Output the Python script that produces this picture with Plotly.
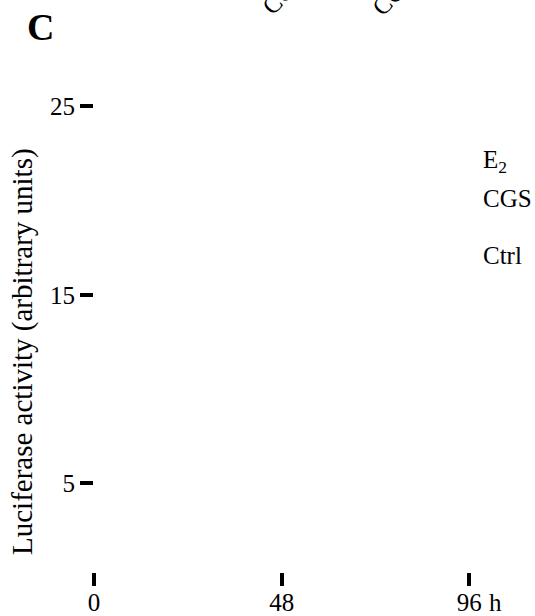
import plotly.graph_objects as go

# ---- data ----
x_ticks = [0, 48, 96]
x_tick_labels = ["0", "48", "96"]
y_ticks = [5, 15, 25]
y_tick_labels = ["5", "15", "25"]
series_names = ["E<sub>2</sub>", "CGS", "Ctrl"]
series_label_y = [22.1, 20.1, 17.1]
top_labels = ["CGS", "CGS"]
x_unit = "h"
y_title = "Luciferase activity (arbitrary units)"
panel = "C"

W, H = 535, 616
L, R, T, B = 94, 485, 80, 572  # plot area in pixels
FONT = "Liberation Serif, Times New Roman, serif"


def px(xp):
    return (xp - L) / (R - L)


def py(yp):
    return (B - yp) / (B - T)


fig = go.Figure()
fig.add_trace(go.Scatter(x=[], y=[], mode="lines", showlegend=False))

fig.update_layout(
    width=W, height=H,
    margin=dict(l=L, r=W - R, t=T, b=H - B, autoexpand=False),
    paper_bgcolor="white", plot_bgcolor="white",
    showlegend=False,
    font=dict(family=FONT, size=25, color="black"),
    xaxis=dict(range=[0, 100], showline=False, showgrid=False, zeroline=False,
               automargin=False,
               tickmode="array", tickvals=x_ticks, ticktext=x_tick_labels,
               ticks="outside", ticklen=13, tickwidth=4, tickcolor="black",
               ticklabelstandoff=-5,
               tickfont=dict(family=FONT, size=25, color="black")),
    yaxis=dict(range=[0.3, 26.4], showline=False, showgrid=False, zeroline=False,
               automargin=False,
               tickmode="array", tickvals=y_ticks, ticktext=y_tick_labels,
               ticks="outside", ticklen=13, tickwidth=4, tickcolor="black",
               tickfont=dict(family=FONT, size=25, color="black")),
)

ann = []
for name, yv in zip(series_names, series_label_y):
    ann.append(dict(x=px(481), xref="paper", y=yv, yref="y", text=name,
                    showarrow=False, xanchor="left", yanchor="middle",
                    font=dict(family=FONT, size=25, color="black")))
ann.append(dict(x=px(487), xref="paper", y=py(602), yref="paper", text=x_unit,
                showarrow=False, xanchor="left", yanchor="middle",
                font=dict(family=FONT, size=25, color="black")))
ann.append(dict(x=px(22), xref="paper", y=py(352), yref="paper", text=y_title,
                textangle=-90, showarrow=False, xanchor="center", yanchor="middle",
                font=dict(family=FONT, size=29, color="black")))
ann.append(dict(x=px(40), xref="paper", y=py(27), yref="paper", text="<b>" + panel + "</b>",
                showarrow=False, xanchor="center", yanchor="middle",
                font=dict(family=FONT, size=38, color="black")))
for txt, (cx, cy) in zip(top_labels, [(283, -7), (393, -6)]):
    ann.append(dict(x=px(cx), xref="paper", y=py(cy), yref="paper", text=txt,
                    textangle=-45, showarrow=False, xanchor="center", yanchor="middle",
                    font=dict(family=FONT, size=25, color="black")))
fig.update_layout(annotations=ann)

fig.write_html("out.html", config={"displayModeBar": False},
               post_script="document.body.style.margin='0px';")
